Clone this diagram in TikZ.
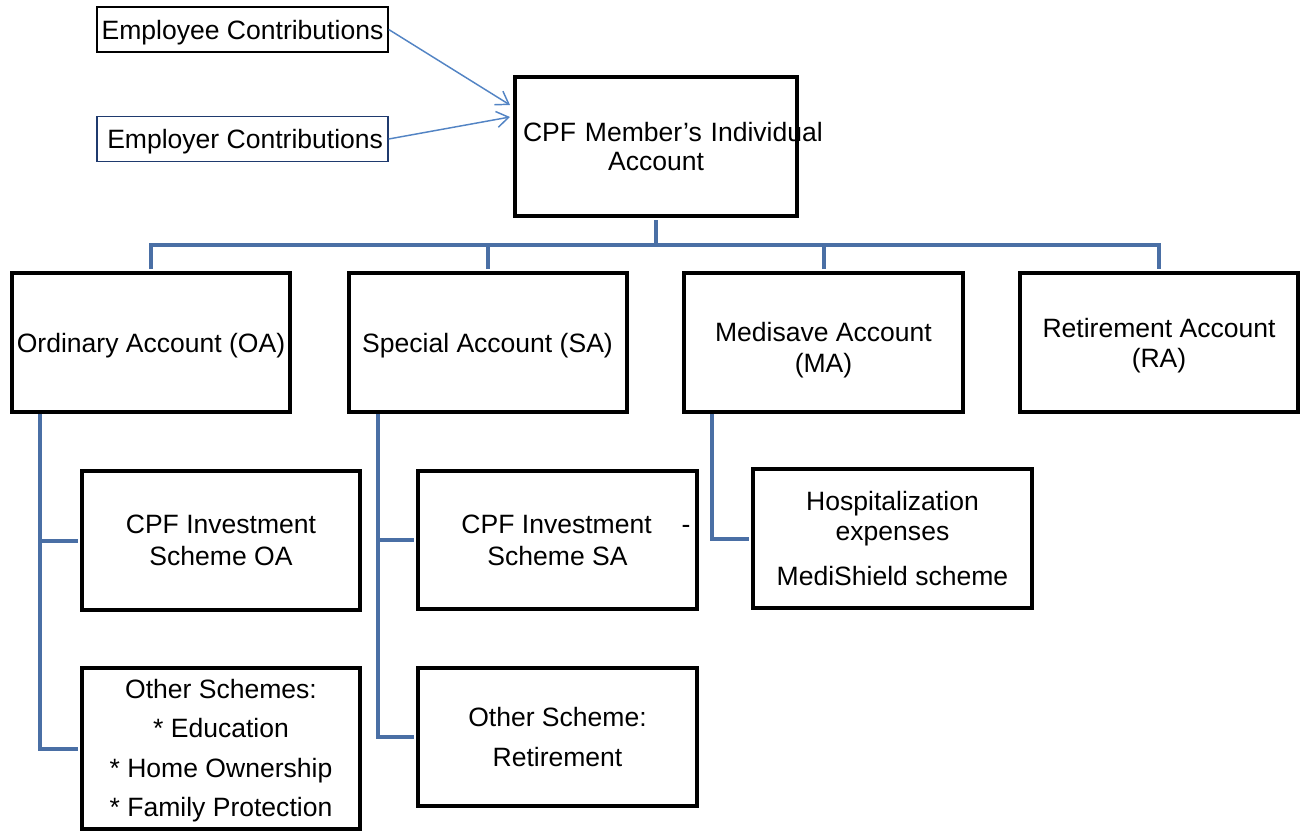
\documentclass[tikz,border=0pt]{standalone}
\usepackage{fontspec}
\setmainfont{Liberation Sans}
\usetikzlibrary{arrows.meta}
\definecolor{treeblue}{HTML}{4A6FA5}
\definecolor{arrblue}{HTML}{5384C4}
\definecolor{navyline}{HTML}{1F3A6E}
\newcommand{\lowstrut}[1]{\rule{0pt}{#1}}
\tikzset{
  txt/.style={font=\fontsize{19.9pt}{23pt}\selectfont},
  acct/.style={txt, draw=black, line width=3pt, rectangle, inner sep=0pt, align=center,
    minimum width=208.5pt, minimum height=104.25pt},
  contrib/.style={txt, draw, line width=1.1pt, rectangle, inner sep=0pt,
    minimum width=218.25pt, minimum height=33.5pt},
  tree/.style={draw=treeblue, line width=3pt},
  arr/.style={draw=arrblue, line width=1.1pt, -{Straight Barb[length=9pt,width=12pt]}}
}
\begin{document}
\begin{tikzpicture}[x=0.75pt, y=-0.75pt]
\useasboundingbox (0,0) rectangle (1301,831);

% contributions
\node[contrib, draw=black] (employee) at (242.5,29.5) {\lowstrut{19pt}Employee Contributions};
\node[contrib, draw=navyline] (employer) at (242.5,139) {\lowstrut{19pt}\hspace*{4pt}Employer Contributions};

% main account
\node[acct, minimum width=211.5pt, inner xsep=6pt, text width=199.5pt] (cpf) at (656,146.5)
  {\mbox{CPF Member’s Individual}\\[-1.5pt]Account};

% accounts
\node[acct] (oa) at (151,342.5) {\lowstrut{19pt}Ordinary Account (OA)};
\node[acct] (sa) at (487.5,342.5) {\lowstrut{19pt}Special Account (SA)};
\node[acct, minimum width=209.25pt] (ma) at (823.5,342.5) {\lowstrut{25.5pt}Medisave Account\\(MA)};
\node[acct] (ra) at (1159,342.5) {\lowstrut{19pt}Retirement Account\\(RA)};

% schemes
\node[acct] (oainv) at (221,540.5) {CPF Investment\\[1pt]Scheme OA};
\node[acct, minimum width=209.25pt, minimum height=103.5pt] (sainv) at (557.5,540)
  {\hspace*{27.75pt}CPF Investment\hspace{22.5pt}-\\[1pt]Scheme SA};
\node[acct, minimum width=209.25pt] (hosp) at (892.5,538.5)
  {Hospitalization\\expenses\\[10.75pt]MediShield scheme};
\node[acct, minimum height=120.75pt] (oaother) at (221,748.5)
  {\lowstrut{17.5pt}Other Schemes:\\[6.5pt]* Education\\[6.5pt]* Home Ownership\\[6.5pt]* Family Protection};
\node[acct, minimum width=209.25pt, minimum height=103.5pt] (saother) at (557.5,737)
  {Other Scheme:\\[6.5pt]Retirement};

% arrows
\coordinate (t1) at (510,105);
\coordinate (t2) at (510,117);
\draw[arr] (employee.east) -- (t1);
\draw[arr] (employer.east) -- (t2);

% tree
\coordinate (bus) at (656,245);
\draw[tree] ([yshift=-1.5pt]cpf.south) -- (bus);
\draw[tree, line join=miter] ([yshift=1.5pt]oa.north) -- (oa.north |- bus) -- (ra.north |- bus) -- ([yshift=1.5pt]ra.north);
\draw[tree] ([yshift=1.5pt]sa.north) -- (sa.north |- bus);
\draw[tree] ([yshift=1.5pt]ma.north) -- (ma.north |- bus);

\coordinate (oaS) at (40,414);
\coordinate (saS) at (378,414);
\coordinate (maS) at (712,414);
\draw[tree] (oaS) |- ([xshift=-1.5pt]oainv.west);
\draw[tree] (oaS) |- ([xshift=-1.5pt]oaother.west);
\draw[tree] (saS) |- ([xshift=-1.5pt]sainv.west);
\draw[tree] (saS) |- ([xshift=-1.5pt]saother.west);
\draw[tree] (maS) |- ([xshift=-1.5pt]hosp.west);
\end{tikzpicture}
\end{document}
